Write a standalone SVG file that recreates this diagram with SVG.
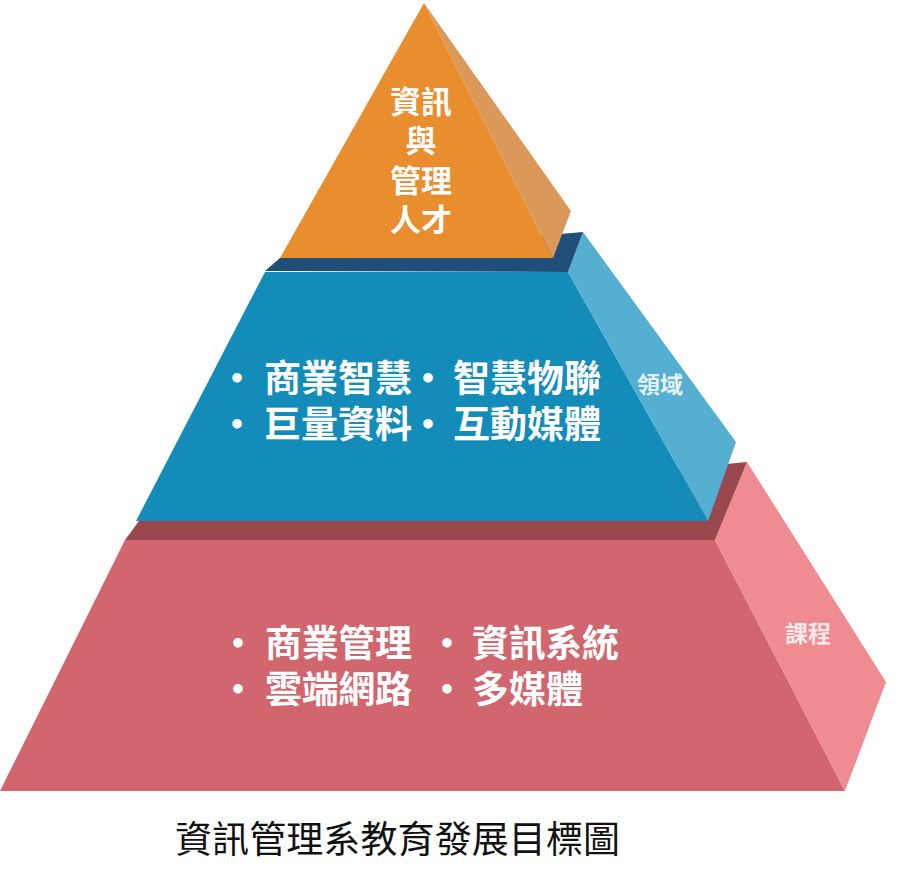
<svg xmlns="http://www.w3.org/2000/svg" width="917" height="887" viewBox="0 0 917 887">
<style>
.cjk{font-family:"Noto Sans CJK TC","Noto Sans CJK SC",sans-serif;}
.main{font-weight:700;fill:#ffffff;font-size:37px;}
.top{font-weight:700;fill:#ffffff;font-size:31px;text-anchor:middle;}
.side{font-weight:700;font-size:23px;}
.bul{text-anchor:middle;}
.title{font-weight:400;fill:#111111;font-size:37px;}
</style>
<rect width="917" height="887" fill="#ffffff"/>
<g id="layer-bottom">
  <polygon points="125,540 715,540 845,791 0,791" fill="#D1666F"/>
  <polygon points="715,540 747,462 886,682 845,791" fill="#EE8C92"/>
  <polygon points="125,540 139,521 747,462 715,540" fill="#9A4750"/>
  <g class="cjk main">
    <text class="bul" x="238" y="657">•</text>
    <text x="265" y="657" textLength="147">商業管理</text>
    <text class="bul" x="447" y="657">•</text>
    <text x="472" y="657" textLength="147">資訊系統</text>
    <text class="bul" x="238" y="703">•</text>
    <text x="265" y="703" textLength="147">雲端網路</text>
    <text class="bul" x="447" y="703">•</text>
    <text x="472" y="703">多媒體</text>
  </g>
  <text class="cjk side" x="808" y="642" text-anchor="middle" fill="#FBE9EA">課程</text>
</g>
<g id="layer-middle">
  <polygon points="265,272 568,272 708,521 136,521" fill="#148CB9"/>
  <polygon points="568,272 583,232 736,442 708,521" fill="#55AFD1"/>
  <polygon points="265,271 280,258 583,232 568,272" fill="#1F4E79"/>
  <g class="cjk main">
    <text class="bul" x="237" y="392">•</text>
    <text x="264" y="392" textLength="148">商業智慧</text>
    <text class="bul" x="428" y="392">•</text>
    <text x="453" y="392" textLength="148">智慧物聯</text>
    <text class="bul" x="237" y="438">•</text>
    <text x="264" y="438" textLength="148">巨量資料</text>
    <text class="bul" x="428" y="438">•</text>
    <text x="453" y="438" textLength="148">互動媒體</text>
  </g>
  <text class="cjk side" x="660" y="393" text-anchor="middle" fill="#E4F2F8">領域</text>
</g>
<g id="layer-top">
  <polygon points="424,3 280,258 553,258" fill="#E88E2E"/>
  <polygon points="424,3 571,211 553,258" fill="#DA995B"/>
  <g class="cjk top">
    <text x="421" y="113">資訊</text>
    <text x="421" y="152">與</text>
    <text x="421" y="192">管理</text>
    <text x="421" y="231">人才</text>
  </g>
</g>
<g id="connectors"></g>
<g id="title">
  <text class="cjk title" x="175" y="853" textLength="445">資訊管理系教育發展目標圖</text>
</g>
</svg>
